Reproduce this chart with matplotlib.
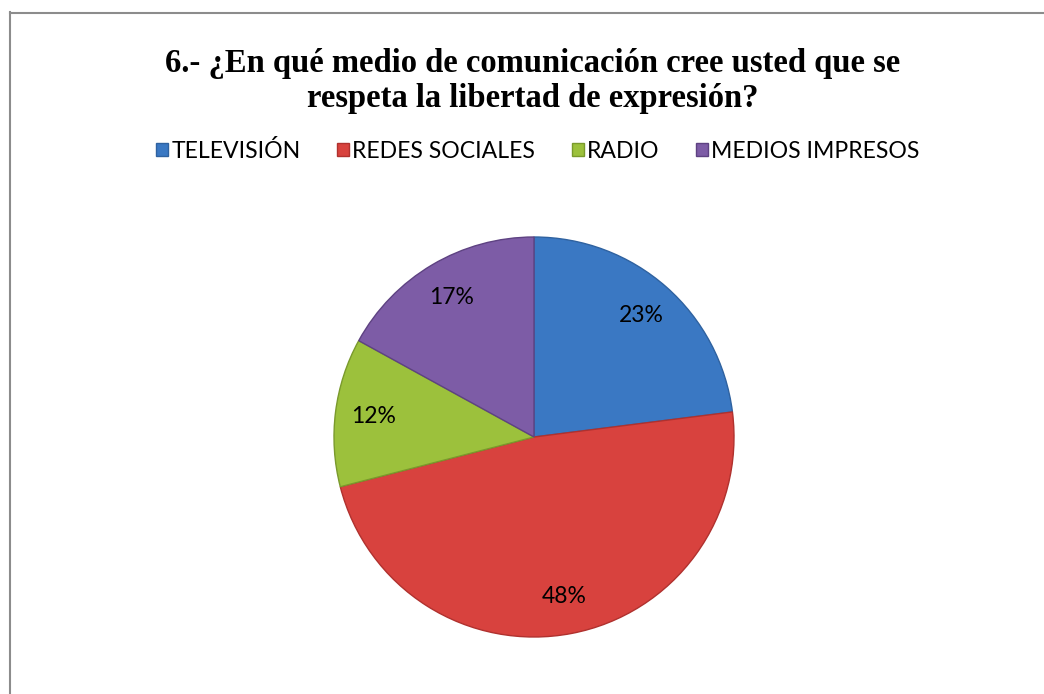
import matplotlib
matplotlib.use("Agg")
import matplotlib.pyplot as plt
from matplotlib.patches import Patch
from matplotlib.lines import Line2D

categories = ["TELEVISIÓN", "REDES SOCIALES", "RADIO", "MEDIOS IMPRESOS"]
values = [23, 48, 12, 17]
colors = ["#3A78C3", "#D8423E", "#9CC13C", "#7D5CA6"]
edge_colors = ["#2F62A0", "#B0312E", "#7A9A2C", "#5E4282"]
title = "6.- ¿En qué medio de comunicación cree usted que se\nrespeta la libertad de expresión?"

W, H = 1044, 694
fig = plt.figure(figsize=(W / 100, H / 100), dpi=100)
fig.patch.set_facecolor("white")

# border (left and top visible)
fig.add_artist(Line2D([9.5 / W, 9.5 / W], [0, 1 - 12 / H], transform=fig.transFigure, color="#8C8C8C", lw=1.5))
fig.add_artist(Line2D([9.5 / W, 1], [1 - 12.5 / H, 1 - 12.5 / H], transform=fig.transFigure, color="#8C8C8C", lw=1.5))

fig.text(533 / W, 1 - 81 / H, title, ha="center", va="center",
         fontsize=23.5, fontweight="bold", family="Liberation Serif", linespacing=1.2)

cx, cy, r = 534, 437, 200
ax = fig.add_axes([(cx - r) / W, 1 - (cy + r) / H, 2 * r / W, 2 * r / H])
wedges, texts = ax.pie(values, colors=colors, startangle=90, counterclock=False,
                       labels=[f"{v}%" for v in values], labeldistance=0.81,
                       wedgeprops=dict(linewidth=1.0),
                       textprops=dict(fontsize=16.5, family="Lato", color="black", ha="center", va="center"))
for w, ec in zip(wedges, edge_colors):
    w.set_edgecolor(ec)
ax.set_xlim(-1, 1)
ax.set_ylim(-1, 1)
ax.set_aspect("equal")
ax.axis("off")

handles = [Patch(facecolor=c, edgecolor=ec, label=l) for c, ec, l in zip(colors, edge_colors, categories)]
leg = fig.legend(handles=handles, loc="center", bbox_to_anchor=(538 / W, 1 - 151 / H), ncol=4,
                 frameon=False, prop=dict(family="Lato", size=16.6), handlelength=0.5, handleheight=0.5,
                 handletextpad=0.15, columnspacing=1.6)

fig.savefig("out.png", dpi=100, facecolor="white")
